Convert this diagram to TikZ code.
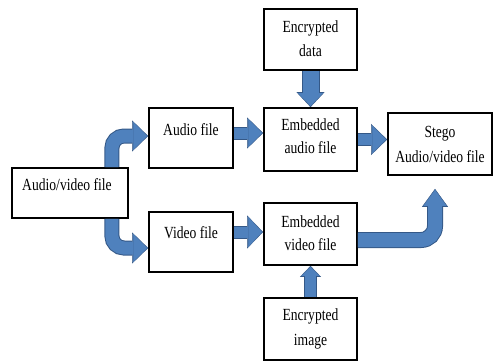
\documentclass[tikz,border=0pt]{standalone}
\usepackage{fontspec}
\setmainfont[FakeStretch=0.8]{Liberation Serif}
\usetikzlibrary{arrows.meta}
\definecolor{fb}{RGB}{79,129,189}
\definecolor{eb}{RGB}{52,88,135}
\tikzset{
  box/.style={draw=black, line width=1.8pt, fill=white, inner sep=0pt},
  txt/.style={anchor=base, inner sep=0pt, font=\fontsize{17}{20}\selectfont},
  flow/.style n args={6}{line width=#1, draw=fb, shorten >=1pt,
    -{Triangle[width=#2,length=#3,line width=0.3pt]},
    preaction={draw=eb, line width=#4, shorten >=0pt,
      -{Triangle[width=#5,length=#6,line width=0.3pt]}}}
}
\begin{document}
\begin{tikzpicture}[x=1pt,y=1pt]
\useasboundingbox (0,0) rectangle (494,362);
% boxes
\node[box, minimum width=116pt, minimum height=50pt] (av) at (70,169) {};
\node[box, minimum width=84pt, minimum height=60pt] (audio) at (191,224) {};
\node[box, minimum width=84pt, minimum height=60pt] (video) at (191,120) {};
\node[box, minimum width=93pt, minimum height=61pt] (encdata) at (310.5,322.5) {};
\node[box, minimum width=93pt, minimum height=63pt] (embaudio) at (310.5,222.5) {};
\node[box, minimum width=104pt, minimum height=62pt] (stego) at (440,218) {};
\node[box, minimum width=93pt, minimum height=62pt] (embvideo) at (310.5,128) {};
\node[box, minimum width=93pt, minimum height=62pt] (encimage) at (310.5,33) {};
% texts
\node[txt] (tav) at (67,172) {Audio/video file};
\node[txt] (taudio) at (191,227) {Audio file};
\node[txt] (tvideo) at (191,124) {Video file};
\node[txt] (tencd1) at (310.5,329) {Encrypted};
\node[txt] (tencd2) at (310.5,305) {data};
\node[txt] (temba1) at (310.5,232) {Embedded};
\node[txt] (temba2) at (310.5,209) {audio file};
\node[txt] (tst1) at (440,225) {Stego};
\node[txt] (tst2) at (440,200) {Audio/video file};
\node[txt] (tembv1) at (310.5,135) {Embedded};
\node[txt] (tembv2) at (310.5,112) {video file};
\node[txt] (tenci1) at (310.5,42) {Encrypted};
\node[txt] (tenci2) at (310.5,17) {image};
% connector anchors
\coordinate (s1) at ([xshift=-17pt]av.north east);
\coordinate (s2) at ([xshift=-17pt]av.south east);
\coordinate (a1) at ([yshift=5pt]audio.east);
\coordinate (v1) at ([yshift=10pt]video.east);
\coordinate (e1) at ([yshift=-6pt]embvideo.east);
\coordinate (st) at ([xshift=-5pt,yshift=-13pt]stego.south);
% arrows
\draw[flow={13pt}{28pt}{14pt}{15pt}{31pt}{16pt}, rounded corners=12pt]
  (s1) |- ([yshift=2pt]audio.west);
\draw[flow={13pt}{28pt}{14pt}{15pt}{31pt}{16pt}, rounded corners=12pt]
  (s2) |- ([yshift=-6pt]video.west);
\draw[flow={11pt}{28pt}{14pt}{13pt}{31pt}{16pt}] (a1) -- (a1 -| embaudio.west);
\draw[flow={11pt}{30pt}{14pt}{13pt}{33pt}{16pt}] (v1) -- (v1 -| embvideo.west);
\draw[flow={11pt}{28pt}{14pt}{13pt}{31pt}{16pt}] (embaudio.east) -- (embaudio.east -| stego.west);
\draw[flow={16pt}{25pt}{13pt}{18pt}{28pt}{15pt}] (encdata.south) -- (embaudio.north);
\draw[flow={11pt}{18pt}{9pt}{13pt}{21pt}{11pt}] (encimage.north) -- (embvideo.south);
\draw[flow={14pt}{23pt}{16pt}{16pt}{26pt}{18pt}, rounded corners=14pt]
  (e1) -| (st);
\end{tikzpicture}
\end{document}
